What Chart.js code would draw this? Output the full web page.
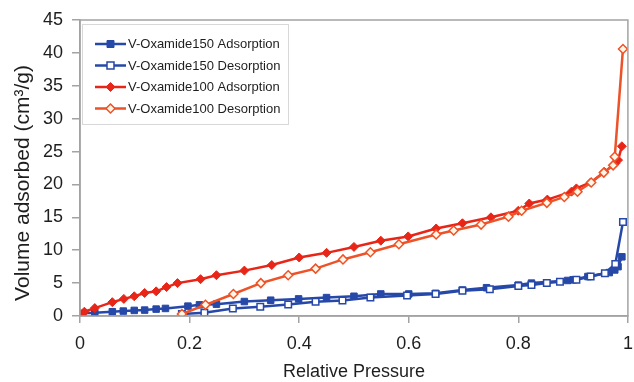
<!DOCTYPE html>
<html lang="en">
  <head>
    <meta charset="utf-8" />
    <title>Isotherms</title>
    <style>
      html, body { margin: 0; padding: 0; background: #fff; overflow: hidden; }
      .chartBox { width: 634px; height: 382px; position: relative; }
    </style>
  </head>
  <body>
    <div class="chartBox">
      <canvas id="myChart"></canvas>
    </div>

    <script src="https://cdn.jsdelivr.net/npm/chart.js/dist/chart.umd.min.js"></script>
    <script>
      // series data (relative pressure, volume adsorbed)
      const ox150AdsP = [0, 0.005, 0.027, 0.059, 0.079, 0.099, 0.118, 0.139, 0.156, 0.197, 0.218, 0.249, 0.3, 0.348, 0.399, 0.45, 0.5, 0.549, 0.6, 0.649, 0.698, 0.742, 0.8, 0.824, 0.89, 0.9, 0.927, 0.966, 0.976, 0.982, 0.989];
      const ox150AdsV = [0.3, 0.4, 0.5, 0.65, 0.75, 0.85, 0.9, 1.05, 1.15, 1.5, 1.7, 1.8, 2.2, 2.4, 2.6, 2.8, 3.0, 3.35, 3.35, 3.45, 3.95, 4.3, 4.7, 5.0, 5.4, 5.5, 6.0, 6.6, 7.0, 7.5, 9.0];

      const ox150DesP = [0.991, 0.977, 0.958, 0.932, 0.906, 0.876, 0.852, 0.824, 0.8, 0.748, 0.698, 0.649, 0.597, 0.53, 0.479, 0.43, 0.38, 0.329, 0.279, 0.227, 0.186];
      const ox150DesV = [14.3, 7.9, 6.5, 6.0, 5.5, 5.2, 5.0, 4.7, 4.55, 4.05, 3.85, 3.35, 3.1, 2.8, 2.35, 2.15, 1.75, 1.4, 1.15, 0.5, 0.3];

      const ox100AdsP = [0, 0.008, 0.027, 0.059, 0.08, 0.099, 0.118, 0.139, 0.158, 0.178, 0.22, 0.249, 0.3, 0.35, 0.4, 0.45, 0.5, 0.549, 0.599, 0.65, 0.698, 0.75, 0.8, 0.82, 0.853, 0.897, 0.906, 0.932, 0.957, 0.977, 0.982, 0.989];
      const ox100AdsV = [0.2, 0.65, 1.2, 2.1, 2.6, 3.0, 3.5, 3.75, 4.4, 5.0, 5.6, 6.2, 6.9, 7.75, 8.9, 9.6, 10.5, 11.45, 12.1, 13.3, 14.1, 15.0, 16.0, 17.1, 17.7, 18.9, 19.4, 20.3, 21.9, 23.2, 23.7, 25.8];

      const ox100DesP = [0.991, 0.976, 0.973, 0.956, 0.933, 0.908, 0.884, 0.852, 0.806, 0.782, 0.732, 0.682, 0.65, 0.582, 0.53, 0.48, 0.43, 0.38, 0.33, 0.28, 0.229, 0.186];
      const ox100DesV = [40.6, 24.2, 22.9, 21.8, 20.3, 18.9, 18.1, 17.2, 16.0, 15.1, 13.9, 13.0, 12.4, 10.9, 9.7, 8.6, 7.2, 6.2, 5.0, 3.35, 1.7, 0.3];

      const seriesNames = [
        "V-Oxamide150 Adsorption",
        "V-Oxamide150 Desorption",
        "V-Oxamide100 Adsorption",
        "V-Oxamide100 Desorption",
      ];

      const xTicks = [0, 0.2, 0.4, 0.6, 0.8, 1];
      const yTicks = [0, 5, 10, 15, 20, 25, 30, 35, 40, 45];
      const yTitle = "Volume adsorbed (cm³/g)";

      const toPoints = (xs, ys) => xs.map((x, i) => ({ x: x, y: ys[i] }));

      const BLUE = "rgb(38, 72, 168)";
      const RED = "rgb(232, 38, 24)";
      const ORANGE = "rgb(238, 82, 40)";
      const AXIS = "#a3a3a3";
      const TEXT = "#1e1e1e";
      const FONT = "'Liberation Sans', Arial, sans-serif";

      const data = {
        datasets: [
          {
            label: seriesNames[0],
            data: toPoints(ox150AdsP, ox150AdsV),
            borderColor: BLUE,
            backgroundColor: BLUE,
            pointStyle: "rect",
            pointRadius: 4.6,
            order: 4,
          },
          {
            label: seriesNames[1],
            data: toPoints(ox150DesP, ox150DesV),
            borderColor: BLUE,
            backgroundColor: "#ffffff",
            pointStyle: "rect",
            pointRadius: 4.6,
            pointBorderWidth: 1.5,
            order: 3,
          },
          {
            label: seriesNames[2],
            data: toPoints(ox100AdsP, ox100AdsV),
            borderColor: RED,
            backgroundColor: RED,
            pointStyle: "rectRot",
            pointRadius: 4.5,
            order: 2,
          },
          {
            label: seriesNames[3],
            data: toPoints(ox100DesP, ox100DesV),
            borderColor: ORANGE,
            backgroundColor: "#fff7e6",
            pointStyle: "rectRot",
            pointRadius: 4.5,
            pointBorderWidth: 1.5,
            order: 1,
          },
        ],
      };

      // frame round the plot area, y title, and the legend box inside the plot
      const framePlugin = {
        id: "frame",
        afterDatasetsDraw(chart) {
          const { ctx, chartArea: a } = chart;
          ctx.save();
          ctx.strokeStyle = AXIS;
          ctx.lineWidth = 1.5;
          ctx.strokeRect(a.left, a.top, a.right - a.left, a.bottom - a.top);

          // rotated y title
          ctx.save();
          ctx.translate(23, 183);
          ctx.rotate(-Math.PI / 2);
          ctx.font = "21px " + FONT;
          ctx.fillStyle = TEXT;
          ctx.textAlign = "center";
          ctx.textBaseline = "middle";
          ctx.fillText(yTitle, 0, 0);
          ctx.restore();

          // legend
          const bx = 82, by = 24, bw = 206, bh = 100;
          ctx.fillStyle = "#ffffff";
          ctx.fillRect(bx, by, bw, bh);
          ctx.strokeStyle = "#d8d8d8";
          ctx.lineWidth = 1;
          ctx.strokeRect(bx + 0.5, by + 0.5, bw, bh);

          ctx.font = "13px " + FONT;
          ctx.textBaseline = "middle";
          chart.data.datasets.forEach((ds, i) => {
            const y = 44 + i * 21.5;
            ctx.strokeStyle = ds.borderColor;
            ctx.lineWidth = 2.5;
            ctx.beginPath();
            ctx.moveTo(95, y);
            ctx.lineTo(126, y);
            ctx.stroke();

            ctx.fillStyle = ds.backgroundColor;
            ctx.lineWidth = ds.pointBorderWidth || 1;
            ctx.beginPath();
            if (ds.pointStyle === "rect") {
              ctx.rect(107, y - 3.5, 7, 7);
            } else {
              ctx.moveTo(110.5, y - 4.5);
              ctx.lineTo(115, y);
              ctx.lineTo(110.5, y + 4.5);
              ctx.lineTo(106, y);
              ctx.closePath();
            }
            ctx.fill();
            ctx.stroke();

            ctx.fillStyle = TEXT;
            ctx.fillText(ds.label, 128, y + 0.5);
          });
          ctx.restore();
        },
      };

      const config = {
        type: "scatter",
        data,
        options: {
          responsive: true,
          maintainAspectRatio: false,
          animation: false,
          showLine: true,
          layout: { padding: { top: 20, right: 2, left: 0, bottom: 0 } },
          elements: {
            line: { borderWidth: 2.5, tension: 0 },
            point: { borderWidth: 1 },
          },
          scales: {
            x: {
              type: "linear",
              min: 0,
              max: 1,
              afterBuildTicks: (s) => { s.ticks = xTicks.map((v) => ({ value: v })); },
              afterFit: (s) => {
                s.height = 66;
                s.paddingLeft = 0;
                s.paddingRight = 0;
              },
              border: { color: AXIS, width: 1.5 },
              grid: { drawOnChartArea: false, color: AXIS, tickLength: 7, lineWidth: 1.5 },
              ticks: {
                padding: 10,
                color: TEXT,
                font: { family: FONT, size: 18 },
                callback: (v) => String(Math.round(v * 10) / 10),
              },
              title: {
                display: true,
                text: "Relative Pressure",
                color: TEXT,
                font: { family: FONT, size: 18 },
                padding: { top: 0, bottom: -1 },
              },
            },
            y: {
              min: 0,
              max: 45,
              afterBuildTicks: (s) => { s.ticks = yTicks.map((v) => ({ value: v })); },
              afterFit: (s) => {
                s.width = 80;
                s.paddingTop = 0;
                s.paddingBottom = 0;
              },
              border: { color: AXIS, width: 1.5 },
              grid: { drawOnChartArea: false, color: AXIS, tickLength: 8, lineWidth: 1.5 },
              ticks: {
                padding: 9,
                color: TEXT,
                font: { family: FONT, size: 18 },
              },
            },
          },
          plugins: {
            legend: { display: false },
            tooltip: { enabled: false },
          },
        },
        plugins: [framePlugin],
      };

      const myChart = new Chart(document.getElementById("myChart"), config);
    </script>
  </body>
</html>
